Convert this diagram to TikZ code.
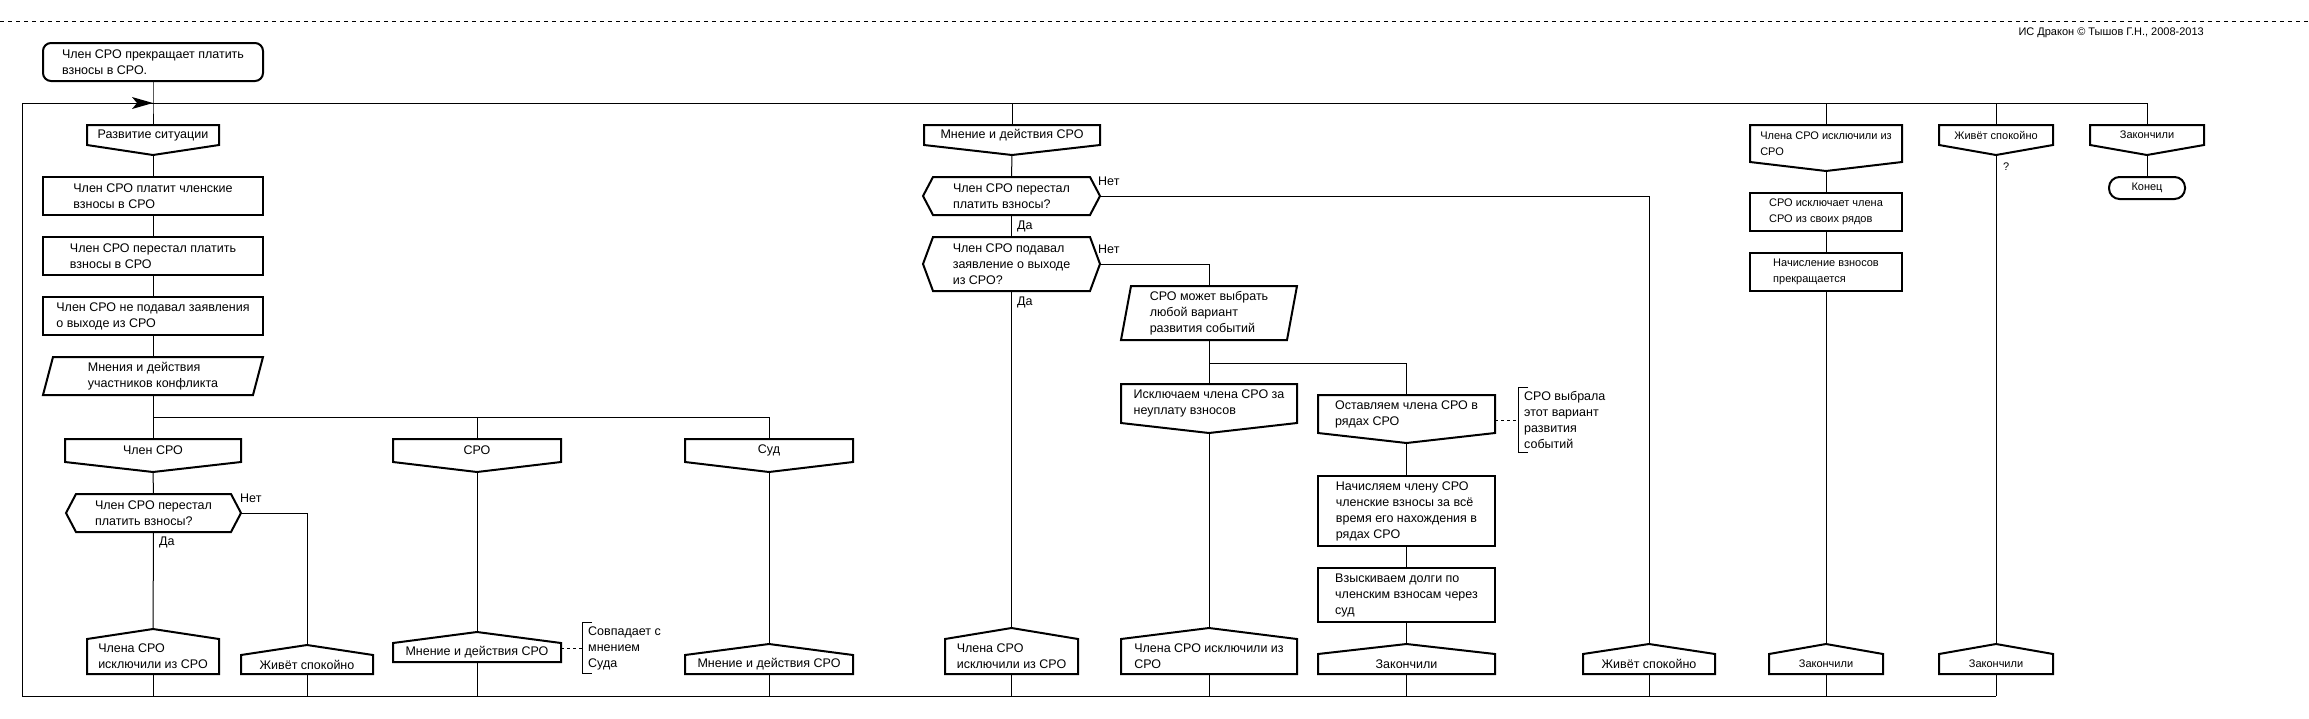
\documentclass[tikz,border=0pt]{standalone}
\usepackage{fontspec}
\setmainfont{Liberation Sans}
\usetikzlibrary{calc}
\tikzset{
  shp/.style={line width=2pt, line join=miter},
  conn/.style={line width=1pt},
  box/.style={rectangle, inner sep=0pt, outer sep=0pt, align=left, font=\fontsize{12.5}{16}\selectfont},
  sz/.style 2 args={minimum width=#1pt, minimum height=#2pt},
  lbl/.style={inner sep=0pt, anchor=west, align=left, font=\fontsize{12.5}{16}\selectfont},
  small/.style={font=\fontsize{11}{16}\selectfont},
  cmline/.style={line width=1pt, dash pattern=on 3pt off 3pt},
}
\newcommand\drRect[1]{\draw[shp] (#1.north west) rectangle (#1.south east);}
\newcommand\drBranch[2]{\coordinate (#1-tip) at ($(#1.south)+(0pt,-#2pt)$);
  \draw[shp] (#1.north west) -- (#1.north east) -- (#1.south east) -- (#1-tip) -- (#1.south west) -- cycle;}
\newcommand\drAddr[2]{\coordinate (#1-tip) at ($(#1.north)+(0pt,#2pt)$);
  \draw[shp] (#1.south west) -- (#1.north west) -- (#1-tip) -- (#1.north east) -- (#1.south east) -- cycle;}
\newcommand\drDec[1]{\draw[shp] (#1.west) -- ($(#1.north west)+(10pt,0pt)$) -- ($(#1.north east)+(-10pt,0pt)$) -- (#1.east) -- ($(#1.south east)+(-10pt,0pt)$) -- ($(#1.south west)+(10pt,0pt)$) -- cycle;}
\newcommand\drPar[1]{\draw[shp] ($(#1.north west)+(10pt,0pt)$) -- (#1.north east) -- ($(#1.south east)+(-10pt,0pt)$) -- (#1.south west) -- cycle;}
\newcommand\drBracket[3]{\draw[conn] ($(#1.north west)+(4pt,#2pt)$) -- ($(#1.north west)+(-6pt,#2pt)$) -- ($(#1.south west)+(-6pt,-#3pt)$) -- ($(#1.south west)+(4pt,-#3pt)$);}
\begin{document}
\begin{tikzpicture}[x=1pt,y=-1pt]
\useasboundingbox (0,0) rectangle (2309,718);
% header
\coordinate (dashL) at (0,21);
\coordinate (dashR) at (2309,21);
\draw[conn, dash pattern=on 4pt off 4pt] (dashL) -- (dashR);
\node[lbl, anchor=east, font=\fontsize{11}{14}\selectfont] (copy) at (2204,33) {ИС Дракон © Тышов Г.Н., 2008-2013};

% start
\node[box, sz={220}{38}] (start) at (153,62) {Член СРО прекращает платить\\взносы в СРО.};
\draw[shp, rounded corners=8pt] (start.north west) rectangle (start.south east);

% column headers
\node[box, sz={132}{20}] (hA) at (153,135) {Развитие ситуации};
\node[box, sz={176}{20}] (hB) at (1012,135) {Мнение и действия СРО};
\node[box, small, sz={152}{37}] (hC) at (1826,143.5) {Члена СРО исключили из\\СРО};
\node[box, small, sz={114}{20}] (hD) at (1996,135) {Живёт спокойно};
\node[box, small, sz={114}{20}] (hE) at (2147,135) {Закончили};
\drBranch{hA}{10}
\drBranch{hB}{10}
\drBranch{hC}{9}
\drBranch{hD}{10}
\drBranch{hE}{10}

% column A
\node[box, sz={220}{38}] (A1) at (153,196) {Член СРО платит членские\\взносы в СРО};
\node[box, sz={220}{38}] (A2) at (153,256) {Член СРО перестал платить\\взносы в СРО};
\node[box, sz={220}{38}] (A3) at (153,316) {Член СРО не подавал заявления\\о выходе из СРО};
\node[box, sz={220}{38}] (A4) at (153,376) {Мнения и действия\\участников конфликта};
\drRect{A1}
\drRect{A2}
\drRect{A3}
\drPar{A4}
\coordinate (splitA) at (153,417);

\node[box, sz={176}{23}] (hA1) at (153,450.5) {Член СРО};
\node[box, sz={168}{23}] (hA2) at (477,450.5) {СРО};
\node[box, sz={168}{23}] (hA3) at (769,450.5) {Суд};
\drBranch{hA1}{10}
\drBranch{hA2}{10}
\drBranch{hA3}{10}

\node[box, sz={175}{38}] (dA) at (153.5,513) {Член СРО перестал\\платить взносы?};
\drDec{dA}
\node[lbl] (dAno) at (240,498) {Нет};
\node[lbl] (dAyes) at (159,542) {Да};

\node[box, sz={132}{35}] (eA1) at (153,656.5) {Члена СРО\\исключили из СРО};
\node[box, sz={132}{19}] (eA2) at (307,664.5) {Живёт спокойно};
\node[box, sz={168}{19}] (eA3) at (477,652.5) {Мнение и действия СРО};
\node[box, sz={168}{19}] (eA4) at (769,664.5) {Мнение и действия СРО};
\drAddr{eA1}{10}
\drAddr{eA2}{10}
\drAddr{eA3}{11}
\drAddr{eA4}{11}

\node[lbl] (cm1) at (588,648) {Совпадает с\\мнением\\Суда};
\drBracket{cm1}{4}{4}
\draw[cmline] (eA3.east |- cm1.west) -- ($(cm1.west)+(-6pt,0pt)$);

% column B
\node[box, sz={177}{38}] (dB1) at (1011.5,196) {Член СРО перестал\\платить взносы?};
\node[box, sz={177}{54}] (dB2) at (1011.5,264) {Член СРО подавал\\заявление о выходе\\из СРО?};
\drDec{dB1}
\drDec{dB2}
\node[lbl] (dB1no) at (1098,181) {Нет};
\node[lbl] (dB1yes) at (1017,226) {Да};
\node[lbl] (dB2no) at (1098,249) {Нет};
\node[lbl] (dB2yes) at (1017,302) {Да};

\node[box, sz={176}{54}] (pB) at (1209,313) {СРО может выбрать\\любой вариант\\развития событий};
\drPar{pB}
\coordinate (splitB) at (1209,363);

\node[box, sz={176}{39}] (hB1) at (1209,403.5) {Исключаем члена СРО за\\неуплату взносов};
\node[box, sz={177}{38}] (hB2) at (1406.5,414) {Оставляем члена СРО в\\рядах СРО};
\drBranch{hB1}{10}
\drBranch{hB2}{10}

\node[lbl] (cm2) at (1524,420) {СРО выбрала\\этот вариант\\развития\\событий};
\drBracket{cm2}{4}{4}
\draw[cmline] (hB2.east |- cm2.west) -- ($(cm2.west)+(-6pt,0pt)$);

\node[box, sz={177}{70}] (aB1) at (1406.5,511) {Начисляем члену СРО\\членские взносы за всё\\время его нахождения в\\рядах СРО};
\node[box, sz={177}{54}] (aB2) at (1406.5,595) {Взыскиваем долги по\\членским взносам через\\суд};
\drRect{aB1}
\drRect{aB2}

\node[box, sz={133}{35}] (eB0) at (1011.5,656.5) {Члена СРО\\исключили из СРО};
\node[box, sz={176}{35}] (eB1) at (1209,656.5) {Члена СРО исключили из\\СРО};
\node[box, sz={177}{20}] (eB2) at (1406.5,664) {Закончили};
\node[box, sz={132}{20}] (eB3) at (1649,664) {Живёт спокойно};
\drAddr{eB0}{11}
\drAddr{eB1}{11}
\drAddr{eB2}{10}
\drAddr{eB3}{10}

% column C
\node[box, small, sz={152}{38}] (aC1) at (1826,212) {СРО исключает члена\\СРО из своих рядов};
\node[box, small, sz={152}{38}] (aC2) at (1826,272) {Начисление взносов\\прекращается};
\drRect{aC1}
\drRect{aC2}
\node[box, small, sz={114}{20}] (eC) at (1826,664) {Закончили};
\drAddr{eC}{10}

% column D
\node[lbl, small] (qD) at (2003,167) {?};
\node[box, small, sz={114}{20}] (eD) at (1996,664) {Закончили};
\drAddr{eD}{10}

% column E
\node[box, small, sz={76}{22}] (term) at (2147,188) {Конец};
\draw[shp, rounded corners=10.5pt] (term.north west) rectangle (term.south east);

% loop frame
\coordinate (jA) at (153,103);
\coordinate (loopTL) at (22,103);
\coordinate (loopBL) at (22,696);
\draw[conn] (start.south) -- (jA) -- (hA.north);
\draw[conn] (loopBL) -- (loopTL) -- (jA);
\draw[conn] (jA) -- (jA -| hE.north) -- (hE.north);
\draw[conn] (jA -| hB.north) -- (hB.north);
\draw[conn] (jA -| hC.north) -- (hC.north);
\draw[conn] (jA -| hD.north) -- (hD.north);
\fill (jA) -- ++(-21pt,-6pt) -- ++(5pt,6pt) -- ++(-5pt,6pt) -- cycle;
\draw[conn] (loopBL) -- (loopBL -| eD.south);
\foreach \e in {eA1,eA2,eA3,eA4,eB0,eB1,eB2,eB3,eC,eD}
  \draw[conn] (\e.south) -- (\e.south |- loopBL);

% column A connectors
\draw[conn] (hA-tip) -- (A1.north);
\draw[conn] (A1.south) -- (A2.north);
\draw[conn] (A2.south) -- (A3.north);
\draw[conn] (A3.south) -- (A4.north);
\draw[conn] (A4.south) -- (splitA) -- (splitA -| hA3.north) -- (hA3.north);
\draw[conn] (splitA) -- (hA1.north);
\draw[conn] (splitA -| hA2.north) -- (hA2.north);
\draw[conn] (hA1-tip) -- (dA.north);
\draw[conn] (dA.south) -- (eA1-tip);
\draw[conn] (dA.east) -- (dA.east -| eA2-tip) -- (eA2-tip);
\draw[conn] (hA2-tip) -- (eA3-tip);
\draw[conn] (hA3-tip) -- (eA4-tip);

% column B connectors
\draw[conn] (hB-tip) -- (dB1.north);
\draw[conn] (dB1.south) -- (dB2.north);
\draw[conn] (dB2.south) -- (eB0-tip);
\draw[conn] (dB1.east) -- (dB1.east -| eB3-tip) -- (eB3-tip);
\draw[conn] (dB2.east) -- (dB2.east -| pB.north) -- (pB.north);
\draw[conn] (pB.south) -- (splitB) -- (hB1.north);
\draw[conn] (splitB) -- (splitB -| hB2.north) -- (hB2.north);
\draw[conn] (hB1-tip) -- (eB1-tip);
\draw[conn] (hB2-tip) -- (aB1.north);
\draw[conn] (aB1.south) -- (aB2.north);
\draw[conn] (aB2.south) -- (eB2-tip);

% column C, D, E connectors
\draw[conn] (hC-tip) -- (aC1.north);
\draw[conn] (aC1.south) -- (aC2.north);
\draw[conn] (aC2.south) -- (eC-tip);
\draw[conn] (hD-tip) -- (eD-tip);
\draw[conn] (hE-tip) -- (term.north);
\end{tikzpicture}
\end{document}
